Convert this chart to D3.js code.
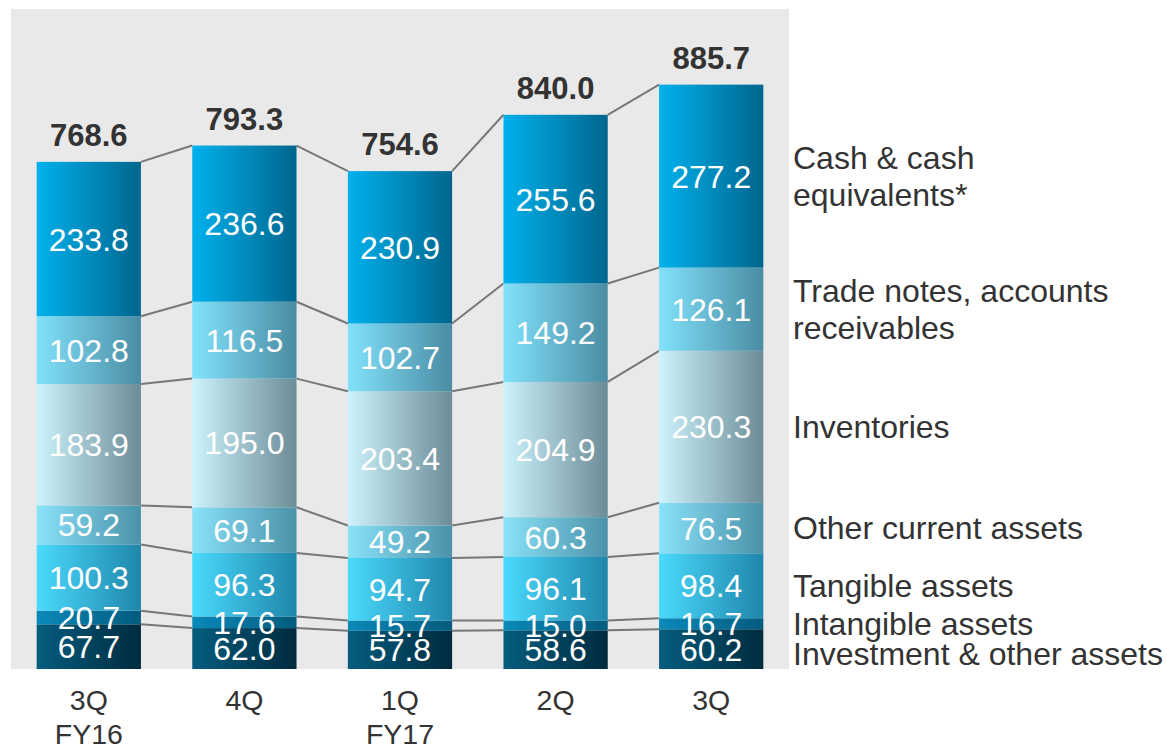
<!DOCTYPE html>
<html>
<head>
<meta charset="utf-8">
<script src="https://cdn.jsdelivr.net/npm/d3@7"></script>
<style>
  body { margin: 0; background: #fff; }
  text { font-family: Arial, "Liberation Sans", sans-serif; }
</style>
</head>
<body>
<div id="chart"></div>
<script>
// quarters (multi-line tick labels)
var categories = [["3Q", "FY16"], ["4Q"], ["1Q", "FY17"], ["2Q"], ["3Q"]];

// series, bottom to top
var investment   = [67.7, 62.0, 57.8, 58.6, 60.2];
var intangible   = [20.7, 17.6, 15.7, 15.0, 16.7];
var tangible     = [100.3, 96.3, 94.7, 96.1, 98.4];
var otherCurrent = [59.2, 69.1, 49.2, 60.3, 76.5];
var inventories  = [183.9, 195.0, 203.4, 204.9, 230.3];
var trade        = [102.8, 116.5, 102.7, 149.2, 126.1];
var cash         = [233.8, 236.6, 230.9, 255.6, 277.2];
var totals       = [768.6, 793.3, 754.6, 840.0, 885.7];

var seriesNames = [
  ["Investment & other assets"],
  ["Intangible assets"],
  ["Tangible assets"],
  ["Other current assets"],
  ["Inventories"],
  ["Trade notes, accounts", "receivables"],
  ["Cash & cash", "equivalents*"]
];
var seriesValues = [investment, intangible, tangible, otherCurrent, inventories, trade, cash];

// left / right colours of each segment gradient
var gradColors = [
  ["#055d7e", "#002b3f"],
  ["#0a89b9", "#045b7e"],
  ["#4adafd", "#1f86ab"],
  ["#8ae2f9", "#4a92a9"],
  ["#cdf3fd", "#6c8c97"],
  ["#82e2fb", "#4a8ca3"],
  ["#00b1ed", "#00668e"]
];

var width = 1167, height = 748;

var svg = d3.select('#chart').append('svg')
  .attr('width', width)
  .attr('height', height);

var plot = { left: 11, right: 789, top: 9, bottom: 669 };

svg.append('rect')
  .attr('x', plot.left)
  .attr('y', plot.top)
  .attr('width', plot.right - plot.left)
  .attr('height', plot.bottom - plot.top)
  .attr('fill', '#e9e9e9');

var x = d3.scaleBand()
  .domain(d3.range(categories.length))
  .range([plot.left, plot.right])
  .paddingInner(0.33)
  .paddingOuter(0.165);

var y = d3.scaleLinear()
  .domain([0, 1000])
  .range([plot.bottom, plot.top]);

// table for d3.stack
var keys = seriesNames.map(function (d, i) { return 's' + i; });
var table = categories.map(function (c, j) {
  var row = { idx: j };
  seriesValues.forEach(function (vals, i) { row[keys[i]] = vals[j]; });
  return row;
});
var stacked = d3.stack().keys(keys)(table);

var defs = svg.append('defs');
gradColors.forEach(function (c, i) {
  var g = defs.append('linearGradient')
    .attr('id', 'grad-' + i)
    .attr('x1', '0%').attr('y1', '0%')
    .attr('x2', '100%').attr('y2', '0%');
  g.append('stop').attr('offset', '0%').attr('stop-color', c[0]);
  g.append('stop').attr('offset', '100%').attr('stop-color', c[1]);
});

// connector lines between bars
var lines = svg.append('g').attr('class', 'connectors');
stacked.forEach(function (layer) {
  for (var j = 0; j < layer.length - 1; j++) {
    lines.append('line')
      .attr('x1', x(j) + x.bandwidth())
      .attr('y1', y(layer[j][1]))
      .attr('x2', x(j + 1))
      .attr('y2', y(layer[j + 1][1]))
      .attr('stroke', '#777')
      .attr('stroke-width', 2);
  }
});

// segments
var layers = svg.append('g').selectAll('g')
  .data(stacked)
  .enter().append('g')
  .attr('fill', function (d, i) { return 'url(#grad-' + i + ')'; });

layers.selectAll('rect')
  .data(function (d) { return d; })
  .enter().append('rect')
  .attr('x', function (d, j) { return x(j); })
  .attr('y', function (d) { return y(d[1]); })
  .attr('width', x.bandwidth())
  .attr('height', function (d) { return y(d[0]) - y(d[1]); });

// segment value labels
var fs = 32;
stacked.forEach(function (layer, i) {
  layer.forEach(function (d, j) {
    var cy = (y(d[0]) + y(d[1])) / 2;
    svg.append('text')
      .attr('x', x(j) + x.bandwidth() / 2)
      .attr('y', cy + fs * 0.36)
      .attr('text-anchor', 'middle')
      .attr('fill', '#fff')
      .style('font-size', fs + 'px')
      .text(d3.format('.1f')(seriesValues[i][j]));
  });
});

// totals
var topLayer = stacked[stacked.length - 1];
totals.forEach(function (t, j) {
  svg.append('text')
    .attr('x', x(j) + x.bandwidth() / 2)
    .attr('y', y(topLayer[j][1]) - 16)
    .attr('text-anchor', 'middle')
    .attr('fill', '#333')
    .style('font-size', '31px')
    .style('font-weight', 'bold')
    .text(d3.format('.1f')(t));
});

// category labels
categories.forEach(function (c, j) {
  var t = svg.append('text')
    .attr('x', x(j) + x.bandwidth() / 2)
    .attr('y', 710)
    .attr('text-anchor', 'middle')
    .attr('fill', '#333')
    .style('font-size', '28.5px');
  c.forEach(function (line, k) {
    t.append('tspan')
      .attr('x', x(j) + x.bandwidth() / 2)
      .attr('dy', k === 0 ? 0 : 34)
      .text(line);
  });
});

// series names next to last bar, pushed apart when crowded
var last = categories.length - 1;
var legendItems = stacked.map(function (layer, i) {
  return { names: seriesNames[i], cy: (y(layer[last][0]) + y(layer[last][1])) / 2 };
}).reverse();
var minGap = 30;
for (var k = 1; k < legendItems.length; k++) {
  if (legendItems[k].cy < legendItems[k - 1].cy + minGap) {
    legendItems[k].cy = legendItems[k - 1].cy + minGap;
  }
}
var lh = 37;
legendItems.forEach(function (it) {
  var n = it.names.length;
  var t = svg.append('text')
    .attr('x', plot.right + 4)
    .attr('y', it.cy - (n - 1) * lh / 2 + 11)
    .attr('fill', '#333')
    .style('font-size', '32px');
  it.names.forEach(function (line, k) {
    t.append('tspan')
      .attr('x', plot.right + 4)
      .attr('dy', k === 0 ? 0 : lh)
      .text(line);
  });
});
</script>
</body>
</html>
